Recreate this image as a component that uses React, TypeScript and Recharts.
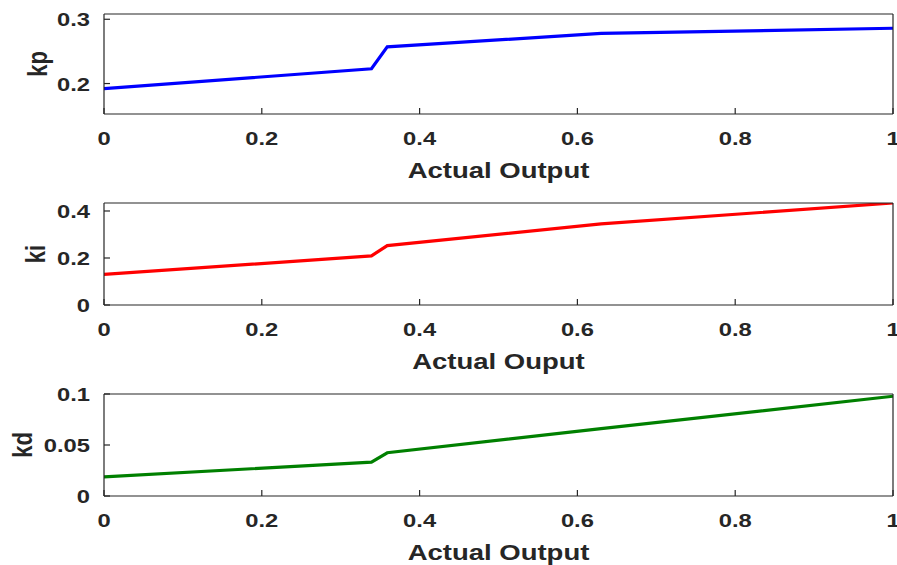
import React from 'react';
import { LineChart, Line, XAxis, YAxis } from 'recharts';

// shared abscissa (actual output) and the three gain schedules
const outputs = [0, 0.339, 0.359, 0.63, 1];
const kpValues = [0.192, 0.223, 0.257, 0.278, 0.286];
const kiValues = [0.13, 0.209, 0.253, 0.345, 0.434];
const kdValues = [0.0187, 0.0332, 0.0424, 0.066, 0.0978];

const xTicks = [0, 0.2, 0.4, 0.6, 0.8, 1];
const kpTicks = [0.2, 0.3];
const kiTicks = [0, 0.2, 0.4];
const kdTicks = [0, 0.05, 0.1];

const INK = '#262626';
const FONT = '"Liberation Sans", Arial, Helvetica, sans-serif';
const STRETCH = 1.25;

const toRows = (vals: number[]) => outputs.map((x, i) => ({ x, v: vals[i] }));

function BottomTick(props: any) {
  const { x, y, payload } = props;
  return (
    <text
      transform={`translate(${x},${y}) scale(${STRETCH},1)`}
      textAnchor="middle"
      dominantBaseline="central"
      fontFamily={FONT}
      fontWeight="bold"
      fontSize={19}
      fill={INK}
    >
      {String(payload.value)}
    </text>
  );
}

function LeftTick(props: any) {
  const { x, y, payload } = props;
  return (
    <text
      transform={`translate(${x},${y + 1}) scale(${STRETCH},1)`}
      textAnchor="end"
      dominantBaseline="central"
      fontFamily={FONT}
      fontWeight="bold"
      fontSize={19}
      fill={INK}
    >
      {String(payload.value)}
    </text>
  );
}

interface PanelProps {
  top: number;
  height: number;
  marginTop: number;
  xAxisHeight: number;
  rows: { x: number; v: number }[];
  domain: [number, number];
  yTicks: number[];
  color: string;
  yLabel: string;
  yLabelX: number;
  xLabel: string;
}

function Panel({
  top,
  height,
  marginTop,
  xAxisHeight,
  rows,
  domain,
  yTicks,
  color,
  yLabel,
  yLabelX,
  xLabel,
}: PanelProps) {
  const xTitle = (p: any) => {
    const vb = p.viewBox || {};
    const cx = (vb.x ?? 104) + (vb.width ?? 790) / 2;
    const cy = (vb.y ?? 0) + 56;
    return (
      <text
        transform={`translate(${cx},${cy}) scale(${STRETCH},1)`}
        textAnchor="middle"
        dominantBaseline="central"
        fontFamily={FONT}
        fontWeight="bold"
        fontSize={22}
        fill={INK}
      >
        {xLabel}
      </text>
    );
  };

  const yTitle = (p: any) => {
    const vb = p.viewBox || {};
    const cy = (vb.y ?? marginTop) + (vb.height ?? 100) / 2;
    return (
      <text
        transform={`translate(${yLabelX},${cy}) scale(${STRETCH},1) rotate(-90)`}
        textAnchor="middle"
        dominantBaseline="central"
        fontFamily={FONT}
        fontWeight="bold"
        fontSize={22}
        fill={INK}
      >
        {yLabel}
      </text>
    );
  };

  const frame = { stroke: INK, strokeWidth: 1.2 };

  return (
    <div style={{ position: 'absolute', left: 0, top, width: 897, height }}>
      <LineChart
        width={897}
        height={height}
        data={rows}
        margin={{ top: marginTop, right: 4, left: 0, bottom: 0 }}
      >
        <XAxis
          dataKey="x"
          type="number"
          domain={[0, 1]}
          ticks={xTicks}
          allowDataOverflow
          height={xAxisHeight}
          tickSize={-6}
          tickMargin={31}
          tick={<BottomTick />}
          axisLine={frame}
          tickLine={frame}
          label={{ content: xTitle }}
        />
        {/* top edge of the box, ticks pointing inward */}
        <XAxis
          xAxisId="frameTop"
          dataKey="x"
          type="number"
          orientation="top"
          mirror
          height={1}
          domain={[0, 1]}
          ticks={xTicks}
          allowDataOverflow
          tickSize={6}
          tick={false}
          axisLine={frame}
          tickLine={frame}
        />
        <YAxis
          type="number"
          domain={domain}
          ticks={yTicks}
          allowDataOverflow
          width={104}
          tickSize={-6}
          tickMargin={20}
          tick={<LeftTick />}
          axisLine={frame}
          tickLine={frame}
          label={{ content: yTitle }}
        />
        {/* right edge of the box */}
        <YAxis
          yAxisId="frameRight"
          type="number"
          orientation="right"
          mirror
          width={1}
          domain={domain}
          ticks={yTicks}
          allowDataOverflow
          tickSize={6}
          tick={false}
          axisLine={frame}
          tickLine={frame}
        />
        <Line
          type="linear"
          dataKey="v"
          stroke={color}
          strokeWidth={3.2}
          dot={false}
          activeDot={false}
          isAnimationActive={false}
        />
      </LineChart>
    </div>
  );
}

export default function App() {
  return (
    <div
      style={{
        position: 'absolute',
        left: 0,
        top: 0,
        width: 897,
        height: 565,
        background: '#ffffff',
        overflow: 'hidden',
      }}
    >
      <Panel
        top={0}
        height={190}
        marginTop={14}
        xAxisHeight={76}
        rows={toRows(kpValues)}
        domain={[0.1526, 0.3082]}
        yTicks={kpTicks}
        color="#0000ff"
        yLabel="kp"
        yLabelX={37}
        xLabel="Actual Output"
      />
      <Panel
        top={190}
        height={190}
        marginTop={13}
        xAxisHeight={75}
        rows={toRows(kiValues)}
        domain={[0, 0.434]}
        yTicks={kiTicks}
        color="#ff0000"
        yLabel="ki"
        yLabelX={35}
        xLabel="Actual Ouput"
      />
      <Panel
        top={380}
        height={185}
        marginTop={14}
        xAxisHeight={69}
        rows={toRows(kdValues)}
        domain={[0, 0.1]}
        yTicks={kdTicks}
        color="#008000"
        yLabel="kd"
        yLabelX={22}
        xLabel="Actual Output"
      />
    </div>
  );
}
